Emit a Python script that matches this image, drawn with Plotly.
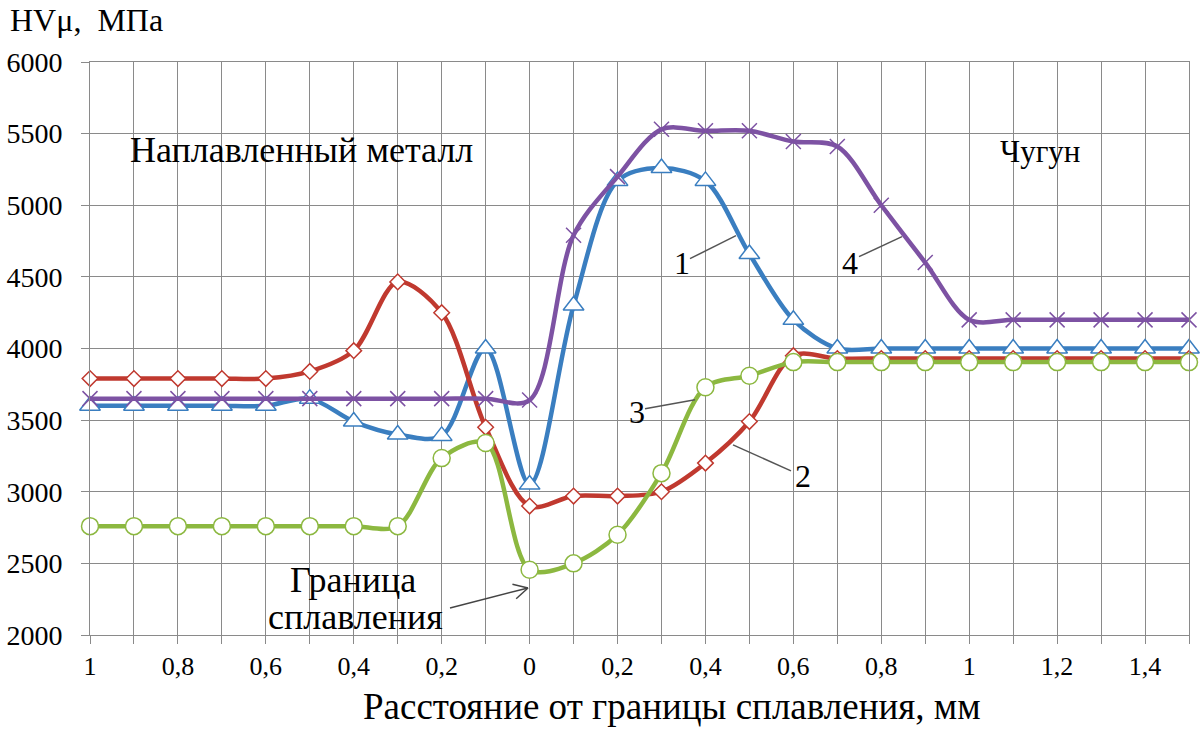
import math
import plotly.graph_objects as go

# ---- data ----
x_mm = [-1.0, -0.9, -0.8, -0.7, -0.6, -0.5, -0.4, -0.3, -0.2, -0.1, 0.0,
        0.1, 0.2, 0.3, 0.4, 0.5, 0.6, 0.7, 0.8, 0.9, 1.0, 1.1, 1.2, 1.3, 1.4, 1.5]
tick_labels = ["1", "", "0,8", "", "0,6", "", "0,4", "", "0,2", "", "0",
               "", "0,2", "", "0,4", "", "0,6", "", "0,8", "", "1",
               "", "1,2", "", "1,4", ""]
y_ticks = [2000, 2500, 3000, 3500, 4000, 4500, 5000, 5500, 6000]

series1 = [3600, 3600, 3600, 3600, 3600, 3650, 3490, 3400, 3390, 4000, 3050,
           4300, 5170, 5260, 5170, 4660, 4200, 4000, 4000, 4000, 4000, 4000, 4000, 4000, 4000, 4000]
series2 = [3790, 3790, 3790, 3790, 3790, 3840, 3985, 4465, 4250, 3450, 2900,
           2970, 2970, 3000, 3200, 3490, 3950, 3930, 3930, 3930, 3930, 3930, 3930, 3930, 3930, 3930]
series3 = [2760, 2760, 2760, 2760, 2760, 2760, 2760, 2760, 3235, 3340, 2455,
           2500, 2700, 3130, 3730, 3810, 3905, 3905, 3905, 3905, 3905, 3905, 3905, 3905, 3905, 3905]
series4 = [3650, 3650, 3650, 3650, 3650, 3650, 3650, 3650, 3650, 3650, 3640,
           4790, 5200, 5530, 5520, 5520, 5445, 5410, 5000, 4600, 4200, 4200, 4200, 4200, 4200, 4200]

BLUE = "#3A7EC0"
RED = "#C0392F"
GREEN = "#8CB840"
PURPLE = "#7D52A3"
GRID = "#8A8A8A"
FONT = "Liberation Serif, Times New Roman, serif"

fig = go.Figure()


def add_series(y, color, symbol, size, name):
    fig.add_trace(go.Scatter(
        x=x_mm, y=y, mode="lines+markers", name=name, cliponaxis=False,
        line=dict(color=color, width=4.5, shape="spline", smoothing=0.9),
        marker=dict(symbol=symbol, size=size, color="white",
                    line=dict(color=color, width=1.5)),
        showlegend=False,
    ))


add_series(series1, BLUE, "triangle-up", 18, "1")
add_series(series2, RED, "diamond", 12, "2")
add_series(series3, GREEN, "circle", 17, "3")
fig.add_trace(go.Scatter(
    x=x_mm, y=series4, mode="lines+markers", name="4", cliponaxis=False,
    line=dict(color=PURPLE, width=4.5, shape="spline", smoothing=0.9),
    marker=dict(symbol="x-thin", size=15, color=PURPLE,
                line=dict(color=PURPLE, width=1.5)),
    showlegend=False,
))

# pixel -> data helpers for annotation placement (plot area 90..1189 x, 62.5..635 y)
def dx(px):
    return -1 + (px - 90) / 1099 * 2.5


def dy(py):
    return 6000 - (py - 62.5) / 572.5 * 4000


annotations = [
    dict(text="Наплавленный металл", x=dx(301), y=dy(150), font=dict(size=36)),
    dict(text="Чугун", x=dx(1040), y=dy(152), font=dict(size=31)),
    dict(text="Граница", x=dx(353), y=dy(580), font=dict(size=36)),
    dict(text="сплавления", x=dx(355), y=dy(617), font=dict(size=36)),
    dict(text="1", x=dx(682), y=dy(263), font=dict(size=32)),
    dict(text="2", x=dx(803), y=dy(476), font=dict(size=32)),
    dict(text="3", x=dx(637), y=dy(412), font=dict(size=32)),
    dict(text="4", x=dx(850), y=dy(263), font=dict(size=32)),
]
for a in annotations:
    a.update(xref="x", yref="y", showarrow=False, xanchor="center", yanchor="middle")
    a["font"].update(family=FONT, color="black")

# axis titles
annotations.append(dict(text="HVμ,  МПа", xref="paper", yref="paper", x=-0.075, y=1,
                        xanchor="left", yanchor="middle", yshift=42, showarrow=False,
                        font=dict(family=FONT, size=32, color="black")))
annotations.append(dict(text="Расстояние от границы сплавления, мм", xref="paper", yref="paper",
                        x=(672 - 90) / 1099, y=0, xanchor="center", yanchor="middle", yshift=-71,
                        showarrow=False, font=dict(family=FONT, size=37, color="black")))

# leader lines
leaders = [((690, 259), (736, 236)),
           ((859, 257), (902, 237)),
           ((645, 409), (695, 400)),
           ((791, 471), (733, 445))]
shapes = []
for (p0, p1) in leaders:
    shapes.append(dict(type="line", xref="x", yref="y", x0=dx(p0[0]), y0=dy(p0[1]),
                       x1=dx(p1[0]), y1=dy(p1[1]), line=dict(color="#555555", width=1.5)))

# arrow to fusion boundary
tail = (450, 608)
head = (528, 588)
shapes.append(dict(type="line", xref="x", yref="y", x0=dx(tail[0]), y0=dy(tail[1]),
                   x1=dx(head[0]), y1=dy(head[1]), line=dict(color="#444444", width=1.5)))
ang = math.atan2(head[1] - tail[1], head[0] - tail[0])
for da in (math.radians(28), -math.radians(28)):
    bx = head[0] - 16 * math.cos(ang + da)
    by = head[1] - 16 * math.sin(ang + da)
    shapes.append(dict(type="line", xref="x", yref="y", x0=dx(head[0]), y0=dy(head[1]),
                       x1=dx(bx), y1=dy(by), line=dict(color="#444444", width=1.5)))

fig.update_layout(
    width=1200, height=729,
    margin=dict(l=90, r=11, t=62, b=94, autoexpand=False),
    paper_bgcolor="white", plot_bgcolor="white",
    annotations=annotations, shapes=shapes,
    xaxis=dict(range=[-1, 1.5], tickvals=x_mm, ticktext=tick_labels, automargin=False,
               showgrid=True, gridcolor=GRID, gridwidth=1, zeroline=False,
               showline=True, linecolor=GRID, linewidth=1, mirror=True,
               ticks="outside", ticklen=8, tickcolor=GRID,
               tickfont=dict(family=FONT, size=26, color="black")),
    yaxis=dict(range=[2000, 6000], tickvals=y_ticks, automargin=False,
               showgrid=True, gridcolor=GRID, gridwidth=1, zeroline=False,
               showline=True, linecolor=GRID, linewidth=1, mirror=True,
               ticks="outside", ticklen=8, tickcolor=GRID, ticklabelstandoff=13,
               tickfont=dict(family=FONT, size=28, color="black")),
)

fig.write_html("out.html", config={"displayModeBar": False},
               post_script="document.body.style.margin='0';document.body.style.overflow='hidden';")
